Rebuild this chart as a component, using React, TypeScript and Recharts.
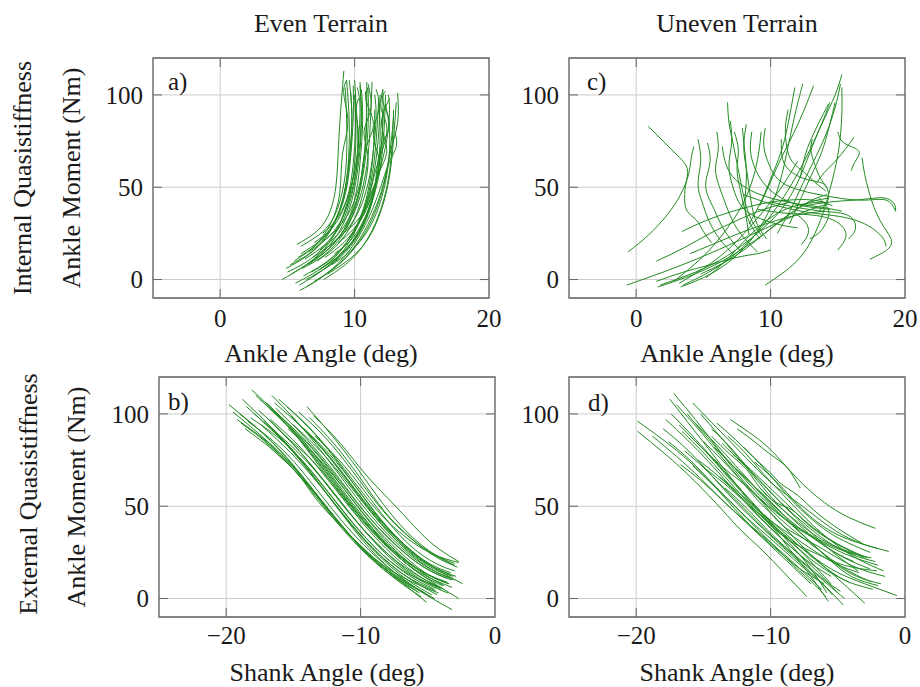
import React from 'react';
import { LineChart, Line, XAxis, YAxis, CartesianGrid, ReferenceLine, ReferenceArea } from 'recharts';

type Pt = [number, number];

// Panel a) Even terrain, ankle angle vs ankle moment
const curvesA: Pt[][] = [
  [[4.6,0],[6.2,7],[7.8,17],[9.0,32],[9.8,52],[10.3,75],[10.1,90],[10.3,98]],
  [[4.9,6],[6.5,13],[8.0,24],[9.0,40],[9.5,60],[9.6,85],[9.4,108]],
  [[5.7,19],[7.0,25],[8.0,34],[8.6,50],[8.8,72],[9.0,95],[9.2,113]],
  [[5.9,-6],[7.5,1],[9.2,12],[10.6,27],[11.7,45],[12.5,62],[13.1,72],[13.0,80]],
  [[5.9,-3],[7.6,5],[9.2,16],[10.4,32],[11.2,52],[11.6,75],[11.8,98]],
  [[5.3,3],[7.0,11],[8.5,22],[9.6,38],[10.2,58],[10.5,82],[10.4,105]],
  [[6.2,2],[7.8,9],[9.4,20],[10.6,36],[11.4,56],[11.8,80],[11.9,100]],
  [[6.5,8],[8.0,16],[9.2,27],[10.0,43],[10.4,63],[10.6,86],[10.5,103]],
  [[5.5,10],[7.0,18],[8.2,30],[8.9,47],[9.1,68],[9.5,85],[9.2,100],[9.4,108]],
  [[6.8,4],[8.4,12],[9.8,24],[10.9,40],[11.6,60],[12.4,80],[12.0,92],[12.1,103]],
  [[7.0,-1],[8.8,8],[10.3,20],[11.5,36],[12.3,55],[12.7,70],[13.2,85],[13.2,101]],
  [[6.0,14],[7.4,21],[8.5,31],[9.3,46],[9.7,66],[9.9,88],[9.9,105]],
  [[7.2,10],[8.6,18],[9.8,30],[10.6,46],[11.0,66],[10.7,80],[11.2,92],[11.0,106]],
  [[6.4,0],[8.0,7],[9.6,18],[10.8,33],[11.6,52],[12.0,72],[12.1,92]],
  [[7.5,6],[9.0,14],[10.3,26],[11.2,42],[11.8,62],[12.1,84],[12.1,103]],
  [[5.0,4],[6.7,11],[8.2,22],[9.3,37],[9.9,56],[10.1,78],[10.0,100]],
  [[6.6,15],[7.9,22],[9.0,32],[9.8,48],[10.3,68],[10.5,90],[10.4,107]],
  [[7.8,12],[9.2,20],[10.4,32],[11.3,48],[11.9,62],[11.4,78],[11.8,92],[11.6,103]],
  [[6.1,6],[7.7,13],[9.1,24],[10.1,40],[10.7,60],[11.0,82],[11.0,104]],
  [[8.0,3],[9.6,11],[11.0,22],[12.0,38],[12.6,56],[12.9,76],[13.1,96]],
  [[7.0,20],[8.2,27],[9.1,37],[9.7,52],[10.0,72],[10.1,93],[10.0,108]],
  [[6.9,2],[8.6,10],[10.0,21],[11.1,37],[11.7,57],[11.9,78],[11.8,96]],
  [[5.6,-2],[7.3,5],[8.9,15],[10.2,30],[11.0,48],[11.4,70],[11.5,92]],
  [[7.4,16],[8.7,24],[9.7,35],[10.4,50],[10.8,70],[11.4,84],[10.9,96],[11.0,104]],
  [[8.3,8],[9.8,16],[11.1,28],[12.0,44],[12.5,62],[12.6,80],[12.3,95]],
  [[6.3,11],[7.8,19],[9.0,30],[9.8,46],[10.2,65],[10.2,85],[10.0,100]],
  [[7.7,0],[9.3,8],[10.7,19],[11.8,35],[12.5,54],[12.8,74],[12.9,92]],
  [[6.7,9],[8.1,17],[9.3,28],[10.2,44],[10.7,64],[10.9,86],[10.8,102]],
  [[8.5,14],[9.8,22],[10.8,34],[11.5,50],[11.9,70],[12.6,84],[12.1,96],[12.3,102]],
  [[5.2,8],[6.8,15],[8.1,26],[9.1,42],[9.6,62],[9.8,84],[9.7,102]],
  [[7.3,5],[8.9,13],[10.2,24],[11.2,40],[11.9,60],[12.2,82],[12.3,100]],
  [[6.0,18],[7.3,24],[8.4,33],[9.1,48],[9.4,66],[9.4,88],[9.3,104]],
  [[8.1,18],[9.3,26],[10.3,37],[11.0,52],[11.4,70],[11.6,88],[11.5,100]],
  [[7.9,22],[9.0,30],[9.9,41],[10.5,56],[10.8,75],[10.9,95],[10.9,107]],
  [[6.4,-4],[8.1,4],[9.7,15],[11.0,30],[12.0,48],[12.6,68],[12.9,88]],
  [[8.8,20],[10.0,28],[11.0,40],[11.7,56],[12.4,70],[12.0,84],[12.6,98]],
  [[5.8,12],[7.2,19],[8.4,30],[9.2,46],[9.6,66],[9.8,88],[9.6,108]],
  [[7.6,25],[8.6,32],[9.4,43],[10.0,58],[10.3,76],[10.4,94],[10.2,104]],
  [[9.0,24],[10.2,32],[11.2,44],[11.9,60],[12.4,76],[12.6,92],[12.5,100]],
  [[6.9,12],[8.4,20],[9.6,31],[10.5,47],[11.0,67],[11.2,89],[11.3,107]],
];

// Panel b) Even terrain, shank angle vs ankle moment
const curvesB: Pt[][] = [
  [[-19.8,105],[-17.2,89],[-14.8,70],[-12.4,48],[-10,28],[-7.5,12],[-5.1,-2]],
  [[-19.5,101],[-16.9,85],[-14.4,66],[-12,44],[-9.5,25],[-7,12],[-4.2,3]],
  [[-18.1,113],[-15.7,96],[-13.3,74],[-10.8,50],[-8.3,30],[-5.8,15],[-3.2,6]],
  [[-16.1,108],[-13.6,91],[-11.2,70],[-8.8,48],[-6.6,33],[-4.6,24],[-2.7,19.5]],
  [[-16.4,106],[-14,90],[-11.6,70],[-9.2,48],[-7,31],[-4.8,18],[-2.4,8]],
  [[-14.6,101],[-12.6,87],[-10.6,69],[-8.5,49],[-6.5,34],[-4.6,24],[-3,18]],
  [[-18.5,104],[-16,87],[-13.6,67],[-11.2,44],[-8.8,23],[-6.2,7],[-3.2,-6]],
  [[-17.5,108],[-15.1,91],[-12.7,70],[-10.3,47],[-8,28],[-5.5,13],[-2.7,0]],
  [[-17,98],[-14.7,81],[-12.4,61],[-10.1,40],[-7.8,22],[-5.6,10],[-3.5,3]],
  [[-18.2,98],[-15.6,84],[-13.2,65],[-10.8,43],[-8.4,24],[-6.1,12],[-4,6]],
  [[-18.8,108],[-16.4,91],[-14,71],[-11.6,48],[-9.2,28],[-6.8,13],[-4.4,4]],
  [[-17.8,110],[-15.5,94],[-13.2,74],[-10.9,52],[-8.6,33],[-6.2,18],[-3.8,9]],
  [[-16.8,103],[-14.5,87],[-12.2,67],[-10,46],[-7.8,28],[-5.5,15],[-3.4,8]],
  [[-15.5,104],[-13.4,89],[-11.3,70],[-9.2,49],[-7.1,31],[-5.1,19],[-3.3,13]],
  [[-19,100],[-16.6,85],[-14.3,66],[-12,45],[-9.7,26],[-7.4,12],[-5.2,3]],
  [[-17.2,96],[-15,80],[-12.8,61],[-10.6,41],[-8.4,24],[-6.3,12],[-4.5,5]],
  [[-16.6,110],[-14.4,93],[-12.1,72],[-9.8,50],[-7.6,32],[-5.3,18],[-3,10]],
  [[-15.2,99],[-13.2,84],[-11.1,65],[-9,45],[-7,29],[-5,17],[-3.2,11]],
  [[-18.4,96],[-16,82],[-13.8,64],[-11.5,43],[-9.2,25],[-6.9,11],[-4.8,1]],
  [[-17.6,102],[-15.3,86],[-13,66],[-10.7,45],[-8.4,27],[-6.1,14],[-3.8,5]],
  [[-16.2,100],[-14,85],[-11.8,66],[-9.6,46],[-7.4,29],[-5.3,17],[-3.6,11]],
  [[-15.8,96],[-13.7,82],[-11.6,63],[-9.5,43],[-7.4,26],[-5.4,14],[-3.8,7]],
  [[-19.2,97],[-16.8,84],[-14.6,68],[-12.5,49],[-10.3,30],[-8,15],[-5.8,4]],
  [[-17,106],[-14.7,89],[-12.5,69],[-10.2,47],[-8,29],[-5.8,16],[-3.6,9]],
  [[-15,94],[-13,80],[-10.9,62],[-8.8,43],[-6.8,28],[-4.8,17],[-3.1,12]],
  [[-16.6,92],[-14.5,78],[-12.3,60],[-10.2,41],[-8.1,25],[-6.1,13],[-4.3,6]],
  [[-14.2,92],[-12.3,78],[-10.4,61],[-8.5,43],[-6.7,29],[-4.9,19],[-3.3,14]],
  [[-18.6,92],[-16.3,79],[-14,62],[-11.7,42],[-9.5,24],[-7.3,10],[-5.5,1]],
  [[-13.8,98],[-12,84],[-10.1,66],[-8.2,47],[-6.3,33],[-4.5,23],[-2.8,17]],
  [[-15.6,88],[-13.5,74],[-11.5,57],[-9.4,39],[-7.4,24],[-5.5,13],[-3.9,7]],
  [[-17.5,88],[-16,77],[-14.5,66],[-13.1,52],[-10.6,33],[-8.2,17],[-6,6],[-4.5,0]],
  [[-14.8,96],[-12.8,81],[-10.8,63],[-8.8,44],[-6.8,29],[-4.8,18],[-2.9,12]],
  [[-17.9,100],[-15.6,84],[-13.4,65],[-11.1,44],[-8.9,26],[-6.6,12],[-4.3,2]],
  [[-16.3,103],[-14.1,87],[-11.9,68],[-9.7,47],[-7.5,30],[-5.3,17],[-3.2,10]],
  [[-15.4,92],[-13.4,78],[-11.3,60],[-9.2,41],[-7.2,26],[-5.2,14],[-3.5,8]],
  [[-13.4,88],[-11.6,75],[-9.8,59],[-8,42],[-6.2,28],[-4.4,19],[-3,15]],
  [[-17.4,94],[-15.2,79],[-13,61],[-10.8,41],[-8.6,23],[-6.5,10],[-4.7,2]],
  [[-18.9,95],[-16.6,82],[-14.4,65],[-12.2,45],[-10,27],[-7.8,13],[-5.6,3]],
  [[-16.7,97],[-14.5,82],[-12.4,64],[-10.2,44],[-8.1,27],[-6,14],[-4,5]],
  [[-14,104],[-12.1,88],[-10.2,70],[-8.3,51],[-6.4,35],[-4.5,24],[-3,19]],
  [[-13.5,99],[-11.5,84],[-9.6,67],[-7.4,50],[-5.6,36],[-4.2,27],[-2.7,20]],
];

// Panel c) Uneven terrain, ankle angle vs ankle moment
const curvesC: Pt[][] = [
  [[-0.7,-3],[2,4],[4.8,12],[7.6,21],[10.3,30],[12.6,37],[14.3,41]],
  [[1.6,-4],[4,2],[6.4,10],[8.8,21],[11,33],[12.8,42],[14.2,46]],
  [[1.8,-3],[4.4,4],[6.8,13],[9,25],[10.8,38],[12.1,54],[13.1,72],[14,88],[14.4,96]],
  [[3.3,-4],[5,1],[6.8,9],[8.5,21],[9.8,36],[10.7,53],[11.3,72],[11.9,92],[12.4,106]],
  [[3.5,-3],[5.4,4],[7.4,14],[9.3,28],[11,45],[12.5,64],[13.8,84],[14.8,100],[15.3,111]],
  [[4.8,3],[6.5,9],[8.2,17],[9.9,27],[11.5,36],[13,42],[14.3,44]],
  [[-0.6,15],[0.9,24],[2.3,35],[3.3,46],[3.9,57],[4.1,66],[4.3,72]],
  [[0.9,83],[2,75],[3.1,67],[3.8,60],[3.7,52],[3.6,44],[3.8,37],[4.5,32],[5,26],[5.6,20]],
  [[3.4,26],[5.2,32],[7.2,37],[9.3,41],[11.3,43],[13.2,43],[14.6,40]],
  [[1.5,-1],[3.5,4],[5.5,8],[7.5,12],[9,14],[10,16]],
  [[5.3,74],[5.5,64],[5.2,54],[5.3,46],[5.8,38],[6.3,30],[7,22],[7.8,15]],
  [[6,80],[6.1,70],[5.9,60],[6.2,50],[6.7,40],[7.3,30],[8.1,22],[9,15]],
  [[6.8,96],[6.9,85],[7.2,74],[7.5,63],[7.8,52],[8.1,42],[8.6,32],[9.3,24]],
  [[7.3,80],[7.6,70],[7.5,60],[7.7,50],[8,40],[8.5,30],[9.2,22]],
  [[8.2,84],[8,72],[8.2,60],[8.4,50],[8.6,40],[9,30],[9.7,22]],
  [[7.9,82],[8.1,68],[8.2,55],[8.1,43],[8.2,33],[8.4,24]],
  [[8.6,80],[8.5,70],[8.8,61],[9.4,53],[10.4,46],[11.8,41],[13.2,39],[14.4,38]],
  [[6.4,72],[6.7,62],[7.4,54],[8.6,48],[10.1,44],[12,41],[13.9,39],[15.3,37]],
  [[9.6,82],[9.5,72],[9.9,62],[10.6,54],[11.9,49],[13.6,46],[15.2,44],[17,43],[18.6,43],[19.3,37]],
  [[10.8,76],[10.9,65],[11.6,58],[12.8,54],[13.9,52],[14.3,47],[14.2,42],[13.6,37]],
  [[9.6,-3],[11,4],[12.2,12],[13.1,22],[13.9,36],[14.6,54],[15.1,72],[15.3,90],[15.3,104]],
  [[10.5,25],[11.5,38],[12.4,52],[13.4,67],[14.3,82],[14.9,96],[15.2,106]],
  [[8.4,30],[9.4,44],[10.2,58],[10.9,72],[11.4,88],[11.8,104]],
  [[9.2,40],[10,53],[10.8,66],[11.7,79],[12.5,92],[13.2,105]],
  [[11.4,30],[12.2,43],[13,56],[13.8,69],[14.4,84],[14.8,96]],
  [[12.2,55],[12.6,68],[13.2,79],[13.8,88],[14.3,95]],
  [[15,80],[15.3,75],[16,72],[16.6,69],[16.3,64],[16,59]],
  [[16.2,77],[15.6,71],[14.8,64],[14,58],[13.4,52]],
  [[16.8,66],[17,57],[17.3,48],[17.7,39],[18.3,30],[18.9,23],[18.8,17],[17.4,11]],
  [[8,46],[10,41],[12.3,37],[14.3,35],[15.9,33],[17.3,29],[18.3,23],[18.6,18]],
  [[9,38],[11,36],[13,35],[14.4,33],[15.3,29],[15.6,23],[15,16]],
  [[10,42],[12,39],[13.9,37],[15.2,36],[16.1,33],[16.3,27],[15.8,22]],
  [[12.6,40],[14.4,42],[16.2,43],[17.6,44],[18.6,44],[19.2,41],[19.3,37]],
  [[13.6,44],[14.3,38],[14.2,32],[13.7,26],[12.9,22]],
  [[11.8,36],[12.6,31],[12.8,25],[12.3,19]],
  [[3.2,-2],[5,6],[6.8,16],[8.4,28],[9.8,40],[11,52],[12,64]],
  [[2.8,-1],[4.3,8],[5.7,18],[7,30],[8,42],[8.7,55],[9.1,68],[9.3,80]],
  [[5.2,1],[6.5,9],[7.8,19],[9.2,29],[10.8,37],[12.5,41],[14,42]],
  [[4,14],[6,20],[8,26],[10,31],[12,35],[14,37]],
  [[1.5,10],[3.5,17],[5.5,25],[7.5,32],[9.5,38],[11.5,42]],
  [[4.6,76],[4.8,64],[4.6,52],[4.9,42],[5.4,32],[6.2,22],[7.2,14]],
  [[7,86],[7.1,74],[6.9,62],[7.2,50],[7.8,40],[8.9,34],[10.5,30],[12,28]],
  [[11.3,92],[11.1,82],[11.2,72],[11.6,64],[12.5,58],[13.4,52],[14.1,48]],
  [[13.1,76],[13,70],[13.3,62],[13.7,55],[14.2,50]],
];

// Panel d) Uneven terrain, shank angle vs ankle moment
const curvesD: Pt[][] = [
  [[-19.9,96],[-18,86],[-16,74],[-14.2,61],[-12.6,48],[-11,36],[-9.3,25],[-7.8,16],[-6,8]],
  [[-19.9,90.6],[-17.8,78],[-15.7,64],[-13.6,48],[-12.2,37],[-10.6,26],[-9,14],[-7.3,1]],
  [[-17.2,111],[-15.6,97],[-14,82],[-12.4,67],[-10.9,55],[-9.3,45],[-7.4,36],[-5,27],[-2.5,22]],
  [[-17.5,108],[-16,94],[-14.5,80],[-12.9,65],[-11.4,52],[-10,40],[-8.5,26],[-7,12],[-5.7,-1.6]],
  [[-15.8,106],[-14.2,94],[-12.6,82],[-11,70],[-9.5,60],[-8,52],[-6.2,42],[-4,32],[-1.2,25.5]],
  [[-12.5,92],[-11.2,85],[-10,78],[-8.9,72],[-8.3,66],[-7.8,60]],
  [[-16.6,90.6],[-15,79],[-13.4,66],[-11.8,53],[-10.2,41],[-8.5,31],[-6.5,24],[-4.5,18],[-2.1,15]],
  [[-14.4,88],[-13,78],[-11.8,70],[-10.8,60],[-9.6,52],[-8.4,48],[-7.2,40],[-5.2,30],[-3,22]],
  [[-16.7,72.5],[-15.2,64],[-13.7,54],[-12.2,44],[-10.6,34],[-9,24],[-7.5,14],[-6.2,5]],
  [[-15.4,75],[-14,67],[-12.5,57],[-11,47],[-9.4,37],[-7.6,27],[-5.5,16],[-3,8],[-0.6,1.6]],
  [[-18,92],[-16.4,82],[-14.8,70],[-13.2,57],[-11.6,45],[-10,34],[-8.2,22],[-6.4,10],[-4.6,-3.4]],
  [[-17,105],[-15.4,92],[-13.8,78],[-12.2,64],[-10.8,52],[-9.4,42],[-7.6,28],[-5.5,14],[-3,-2.5]],
  [[-16.2,100],[-14.8,88],[-13.2,75],[-11.6,62],[-10,50],[-8.4,40],[-6.6,32],[-4.4,24],[-2,18]],
  [[-14,95],[-12.6,86],[-11.2,76],[-10,68],[-9.2,62],[-8,56],[-6.8,48],[-5,38],[-3.2,30]],
  [[-13,97],[-11.6,90],[-10.2,82],[-8.9,72],[-7.6,62],[-6,52],[-4.2,44],[-2.2,38]],
  [[-18.8,88],[-17,77],[-15.2,65],[-13.4,52],[-11.8,41],[-10.2,30],[-8.6,19],[-7,8]],
  [[-15,85],[-13.6,75],[-12.2,64],[-10.8,54],[-9.4,44],[-7.8,34],[-6,24],[-4.2,15],[-2.5,9]],
  [[-16.4,80],[-15,71],[-13.5,60],[-12,49],[-10.5,38],[-9,28],[-7.4,18],[-5.8,8],[-4.5,0]],
  [[-14.6,78],[-13.2,69],[-12,62],[-10.6,52],[-9.6,43],[-8.4,36],[-6.4,28],[-4,18],[-1.5,12]],
  [[-13.6,84],[-12.2,74],[-10.8,64],[-9.4,53],[-8,43],[-6.6,33],[-5,23],[-3.5,15]],
  [[-17.8,97],[-16.2,86],[-14.6,74],[-13,61],[-11.5,49],[-10,38],[-8.5,28],[-7,19],[-5.5,12]],
  [[-15.6,95],[-14.1,84],[-12.6,72],[-11.1,60],[-9.6,49],[-8,39],[-6.3,30],[-4.5,22],[-2.6,16]],
  [[-12,82],[-10.8,73],[-9.6,63],[-8.4,53],[-7.1,44],[-5.7,36],[-4.2,30],[-2.6,25]],
  [[-14.8,70],[-13.4,62],[-12,53],[-10.6,44],[-9.2,35],[-7.8,26],[-6.5,16],[-5.5,8]],
  [[-13.8,66],[-12.5,58],[-11.2,50],[-9.8,41],[-8.4,32],[-7,23],[-5.6,15],[-4.2,9],[-2.4,5]],
  [[-16,88],[-14.5,77],[-13.2,66],[-12.2,58],[-11,48],[-9.2,38],[-7.2,28],[-5.2,19],[-3.4,14]],
  [[-12.8,78],[-11.5,70],[-10.2,61],[-8.9,52],[-7.6,43],[-6.2,35],[-4.6,28],[-2.8,22]],
  [[-15.2,100],[-13.9,89],[-12.5,77],[-11,64],[-9.6,52],[-8.2,42],[-6.8,33],[-5.2,25],[-3.8,20]],
  [[-11.2,74],[-10.1,67],[-9,59],[-8,51],[-6.8,43],[-5.4,36],[-3.8,31],[-2,27]],
  [[-17.4,100],[-15.8,88],[-14.2,75],[-12.6,62],[-11.1,50],[-9.6,38],[-8.1,26],[-6.8,14],[-5.8,3]],
  [[-13.4,60],[-12.2,52],[-11,43],[-9.8,34],[-8.6,26],[-7.3,18],[-6,10],[-4.8,4]],
  [[-14.2,82],[-12.8,72],[-11.4,62],[-10,51],[-8.6,41],[-7.1,31],[-5.6,21],[-4,12],[-2,7]],
  [[-16.8,94],[-15.3,83],[-13.7,71],[-12.1,58],[-10.6,46],[-9.1,35],[-7.6,25],[-6,16],[-4.2,9]],
  [[-12.6,70],[-11.4,62],[-10.2,54],[-9,45],[-7.8,36],[-6.5,27],[-5.2,19],[-3.6,12],[-1.8,8]],
  [[-10.8,60],[-9.7,52],[-8.6,45],[-7.4,38],[-6.2,32],[-4.8,27],[-3.2,23]],
  [[-15.8,72],[-14.5,63],[-13.2,54],[-11.8,44],[-10.4,35],[-9,26],[-7.6,17],[-6.3,9],[-5.4,2]],
  [[-14.4,92],[-13,82],[-11.6,70],[-10.2,59],[-8.8,49],[-7.4,40],[-5.8,31],[-4,24],[-2.2,20]],
  [[-13.2,88],[-11.9,79],[-10.6,68],[-9.3,58],[-8,48],[-6.6,38],[-5.1,29],[-3.4,21],[-1.6,15]],
  [[-11.6,50],[-10.5,42],[-9.4,34],[-8.2,26],[-7,18],[-5.9,10],[-5,3]],
  [[-17.6,85],[-16,75],[-14.4,63],[-12.8,51],[-11.3,40],[-9.8,29],[-8.3,18],[-6.8,8],[-5.9,1]],
];

const topXTicks = [0, 10, 20];
const bottomXTicks = [-20, -10, 0];
const yTicks = [0, 50, 100];
const topXDomain: [number, number] = [-5, 20];
const bottomXDomain: [number, number] = [-25, 0];
const yDomain: [number, number] = [-10, 120];

const FONT = '"Liberation Serif", "Times New Roman", Times, serif';
const LINE_COLOR = '#228b22';
const GRID_COLOR = '#cccccc';
const FRAME_COLOR = '#666666';
const TEXT_COLOR = '#1a1a1a';

const fmt = (v: number) => (v < 0 ? '\u2212' + Math.abs(v) : String(v));

const YW = 70;
const MT = 20;
const MR = 14;
const XH = 40;
const TICK_PX = 9;

interface PanelProps {
  curves: Pt[][];
  xDomain: [number, number];
  xTicks: number[];
  plotLeft: number;
  plotTop: number;
  plotW: number;
  plotH: number;
  xTickGap: number;
}

function Panel({ curves, xDomain, xTicks, plotLeft, plotTop, plotW, plotH, xTickGap }: PanelProps) {
  const tx = (TICK_PX * (xDomain[1] - xDomain[0])) / plotW;
  const ty = (TICK_PX * (yDomain[1] - yDomain[0])) / plotH;
  const innerX = xTicks.filter((t) => t > xDomain[0] && t < xDomain[1]);
  const innerY = yTicks.filter((t) => t > yDomain[0] && t < yDomain[1]);
  const tickStyle = { fontSize: 25, fill: TEXT_COLOR, fontFamily: FONT };
  return (
    <div style={{ position: 'absolute', left: plotLeft - YW, top: plotTop - MT }}>
      <LineChart
        width={YW + plotW + MR}
        height={MT + plotH + XH}
        margin={{ top: MT, right: MR, bottom: 0, left: 0 }}
      >
        <CartesianGrid stroke={GRID_COLOR} strokeWidth={1} />
        <XAxis
          type="number"
          dataKey="x"
          domain={xDomain}
          ticks={xTicks}
          interval={0}
          allowDataOverflow
          axisLine={false}
          tickLine={false}
          tickSize={0}
          tickMargin={xTickGap}
          height={XH}
          tick={tickStyle}
          tickFormatter={fmt}
        />
        <YAxis
          type="number"
          dataKey="y"
          domain={yDomain}
          ticks={yTicks}
          interval={0}
          allowDataOverflow
          axisLine={false}
          tickLine={false}
          tickSize={0}
          tickMargin={10}
          width={YW}
          tick={tickStyle}
          tickFormatter={fmt}
        />
        {curves.map((c, i) => (
          <Line
            key={i}
            data={c.map(([x, y]) => ({ x, y }))}
            dataKey="y"
            type="natural"
            stroke={LINE_COLOR}
            strokeWidth={1}
            dot={false}
            activeDot={false}
            isAnimationActive={false}
          />
        ))}
        {innerY.map((t) => (
          <ReferenceLine
            key={'yl' + t}
            segment={[{ x: xDomain[0], y: t }, { x: xDomain[0] + tx, y: t }]}
            stroke={FRAME_COLOR}
            strokeWidth={1}
            ifOverflow="visible"
          />
        ))}
        {innerY.map((t) => (
          <ReferenceLine
            key={'yr' + t}
            segment={[{ x: xDomain[1] - tx, y: t }, { x: xDomain[1], y: t }]}
            stroke={FRAME_COLOR}
            strokeWidth={1}
            ifOverflow="visible"
          />
        ))}
        {innerX.map((t) => (
          <ReferenceLine
            key={'xb' + t}
            segment={[{ x: t, y: yDomain[0] }, { x: t, y: yDomain[0] + ty }]}
            stroke={FRAME_COLOR}
            strokeWidth={1}
            ifOverflow="visible"
          />
        ))}
        {innerX.map((t) => (
          <ReferenceLine
            key={'xt' + t}
            segment={[{ x: t, y: yDomain[1] - ty }, { x: t, y: yDomain[1] }]}
            stroke={FRAME_COLOR}
            strokeWidth={1}
            ifOverflow="visible"
          />
        ))}
        <ReferenceArea
          x1={xDomain[0]}
          x2={xDomain[1]}
          y1={yDomain[0]}
          y2={yDomain[1]}
          fill="none"
          fillOpacity={0}
          stroke={FRAME_COLOR}
          strokeWidth={1.3}
          ifOverflow="visible"
        />
      </LineChart>
    </div>
  );
}

export default function App() {
  return (
    <div style={{ position: 'absolute', left: 0, top: 0, width: 920, height: 687, background: '#ffffff', overflow: 'hidden' }}>
      <Panel curves={curvesA} xDomain={topXDomain} xTicks={topXTicks} plotLeft={153} plotTop={58} plotW={336} plotH={240} xTickGap={11} />
      <Panel curves={curvesC} xDomain={topXDomain} xTicks={topXTicks} plotLeft={569} plotTop={58} plotW={336} plotH={240} xTickGap={11} />
      <Panel curves={curvesB} xDomain={bottomXDomain} xTicks={bottomXTicks} plotLeft={159} plotTop={377} plotW={336} plotH={240} xTickGap={9} />
      <Panel curves={curvesD} xDomain={bottomXDomain} xTicks={bottomXTicks} plotLeft={569} plotTop={377} plotW={336} plotH={240} xTickGap={9} />
      <svg
        width={920}
        height={687}
        style={{ position: 'absolute', left: 0, top: 0, pointerEvents: 'none' }}
        fontFamily={FONT}
        fill={TEXT_COLOR}
      >
        <text x={321} y={32} fontSize={26} textAnchor="middle">Even Terrain</text>
        <text x={737} y={32} fontSize={26} textAnchor="middle">Uneven Terrain</text>
        <text x={321} y={362} fontSize={26} textAnchor="middle">Ankle Angle (deg)</text>
        <text x={737} y={362} fontSize={26} textAnchor="middle">Ankle Angle (deg)</text>
        <text x={327} y={681} fontSize={26} textAnchor="middle">Shank Angle (deg)</text>
        <text x={737} y={681} fontSize={26} textAnchor="middle">Shank Angle (deg)</text>
        <text transform="translate(31,178) rotate(-90)" fontSize={26} textAnchor="middle">Internal Quasistiffness</text>
        <text transform="translate(80,178) rotate(-90)" fontSize={26} textAnchor="middle">Ankle Moment (Nm)</text>
        <text transform="translate(37,494) rotate(-90)" fontSize={26} textAnchor="middle">External Quasistiffness</text>
        <text transform="translate(85,497) rotate(-90)" fontSize={26} textAnchor="middle">Ankle Moment (Nm)</text>
        <text x={168} y={90} fontSize={25}>a)</text>
        <text x={587} y={90} fontSize={25}>c)</text>
        <text x={168} y={410} fontSize={25}>b)</text>
        <text x={588} y={411} fontSize={25}>d)</text>
      </svg>
    </div>
  );
}
